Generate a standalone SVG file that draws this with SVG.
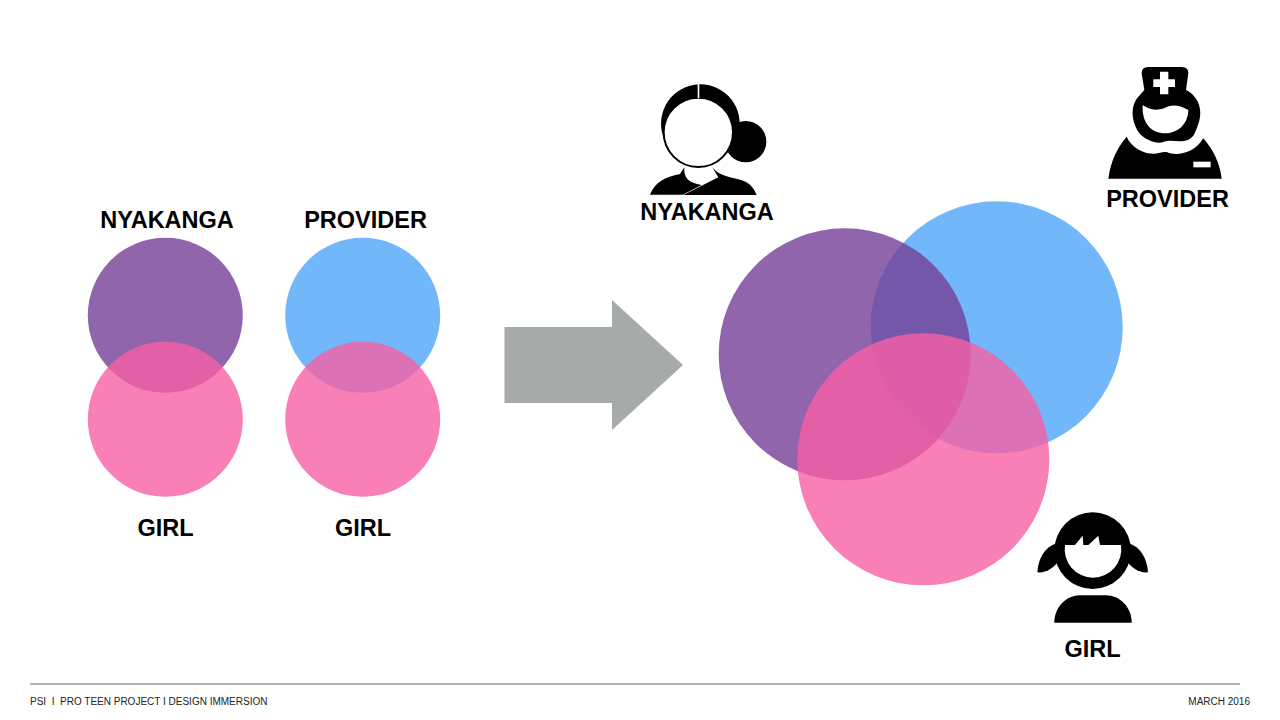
<svg xmlns="http://www.w3.org/2000/svg" width="1280" height="720" viewBox="0 0 1280 720">
<style>
text{font-family:"Liberation Sans",Arial,sans-serif;fill:#000}
.l{font-size:23.500px;font-weight:bold;text-anchor:middle}
.f{font-size:10px;fill:#222}
.pu{fill:#9065AC}.bl{fill:#72B7F9}.pi{fill:#F75FA5;fill-opacity:.8}
</style>
<rect width="1280" height="720" fill="#fff"/>
<g id="nyakanga-small"><circle class="pu" cx="165.300" cy="315.300" r="77.500"/><text class="l" x="167" y="228">NYAKANGA</text></g>
<g id="girl-small-1"><circle class="pi" cx="165.300" cy="419.300" r="77.500"/><text class="l" x="165.500" y="536">GIRL</text></g>
<g id="provider-small"><circle class="bl" cx="362.700" cy="315.300" r="77.500"/><text class="l" x="365.500" y="228">PROVIDER</text></g>
<g id="girl-small-2"><circle class="pi" cx="362.700" cy="419.300" r="77.500"/><text class="l" x="363" y="536">GIRL</text></g>
<g id="arrow"><polygon points="504.500,327 612,327 612,300 683,365 612,430 612,403 504.500,403" fill="#A6AAA9"/></g>
<g id="venn">
<circle class="bl" cx="996.700" cy="327.300" r="126"/>
<circle cx="844.700" cy="354.300" r="126" fill="#743E97" fill-opacity=".8"/>
<circle class="pi" cx="923.300" cy="459.300" r="126"/>
</g>
<g id="nyakanga">
<g transform="translate(630 70) scale(.33333)">
<path d="M112 225A118 118 0 1 1 329 165L205 190Z"/>
<circle cx="347" cy="215" r="62"/>
<path d="M60 374C75 335 105 322 150 312L163 292C160 322 175 340 215 345L158 374Z"/>
<path d="M160 375L265 322L247 292C265 315 290 320 325 328C355 335 370 350 380 375Z"/>
<circle cx="205" cy="187" r="104" fill="#fff" stroke="#000" stroke-width="6"/>
<rect x="203" y="40" width="5" height="44" fill="#fff"/>
</g>
<text class="l" x="707" y="220">NYAKANGA</text>
</g>
<g id="provider">
<g transform="translate(1090 55) scale(.33333)">
<path d="M175 36H275Q295 36 295 55L288 105C328 125 342 170 322 215C314 235 310 252 285 257C262 262 240 252 218 262C200 268 165 255 148 235C124 200 118 150 150 120L163 105L155 55Q155 36 175 36Z"/>
<path d="M158 150C175 160 190 170 222 160C240 150 262 146 295 165C295 205 265 235 225 235C185 235 155 205 158 150Z" fill="#fff"/>
<path d="M190 73H210V50H235V73H255V96H235V118H210V96H190Z" fill="#fff"/>
<path d="M55 371C62 320 80 280 110 245C125 280 165 298 195 296C210 294 220 288 232 292C255 302 310 300 340 250C370 285 390 325 395 371Z"/>
<rect x="310" y="320" width="52" height="17" fill="#fff"/>
</g>
<text class="l" x="1167.500" y="207">PROVIDER</text>
</g>
<g id="girl">
<g transform="translate(1020 500) scale(.33333)">
<circle cx="218" cy="152" r="115"/>
<path d="M110 130C75 140 55 175 52 217C80 220 105 200 118 180Z"/>
<path d="M326 130C361 140 381 175 384 217C356 220 331 200 318 180Z"/>
<path d="M135 135H165L188 107L190 135H205L235 107L240 135H303A85 85 0 1 1 135 135Z" fill="#fff"/>
<path d="M103 368C103 320 140 286 180 286H258C298 286 335 320 335 368Z"/>
</g>
<text class="l" x="1092.500" y="657">GIRL</text>
</g>
<g id="footer">
<line x1="30" y1="684" x2="1240" y2="684" stroke="#999" stroke-width="1.500"/>
<text class="f" x="30" y="705" xml:space="preserve">PSI  I  PRO TEEN PROJECT I DESIGN IMMERSION</text>
<text class="f" x="1250" y="705" text-anchor="end">MARCH 2016</text>
</g>
</svg>
